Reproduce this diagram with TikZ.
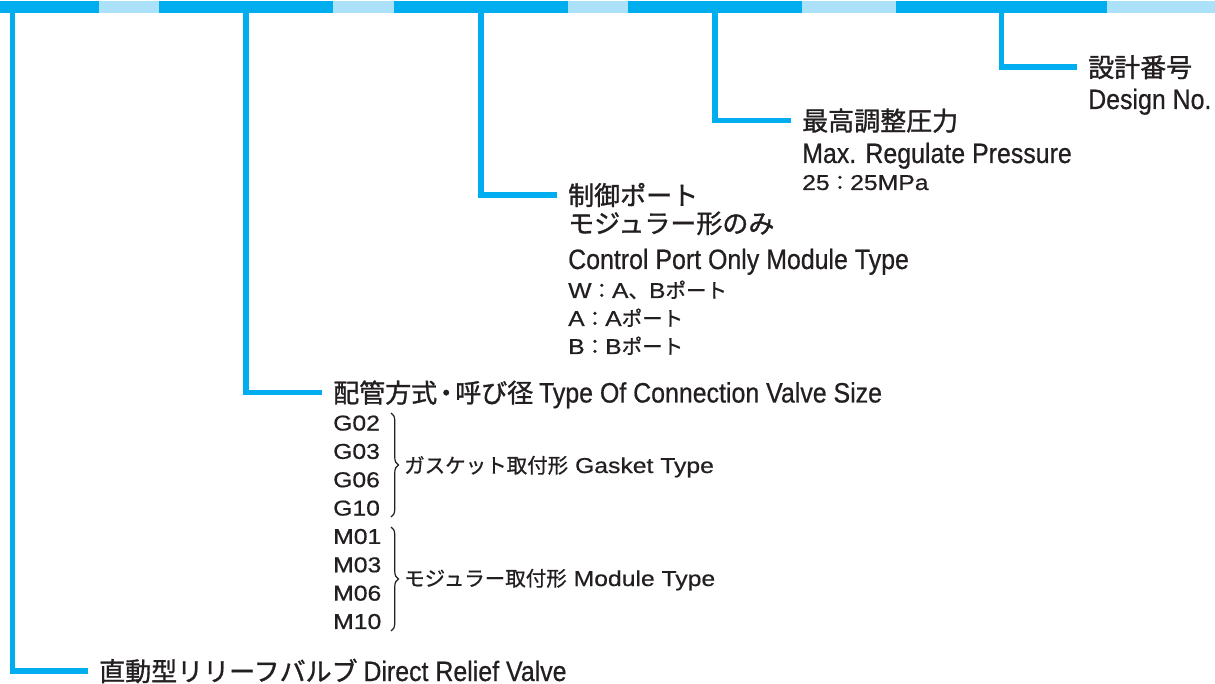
\documentclass[tikz,border=0pt]{standalone}
\usepackage{fontspec}
\newfontfamily\jphd[FakeBold=1.2]{Noto Sans CJK JP}
\newfontfamily\jp[FakeBold=0.8]{Noto Sans CJK JP}
\newfontfamily\hdlat[FakeStretch=0.89,FakeBold=0.6]{Liberation Sans}
\newfontfamily\smlat[FakeStretch=1.15,FakeBold=0.6]{Liberation Sans}
\usetikzlibrary{positioning,decorations.pathreplacing}

\definecolor{bardark}{HTML}{00AEEF}
\definecolor{barlight}{HTML}{ABE2FA}
\definecolor{ink}{HTML}{231F20}

\newcommand\jpbig{\jphd\fontsize{26pt}{30pt}\selectfont}
\newcommand\enbig{\hdlat\fontsize{28pt}{32pt}\selectfont}
\newcommand\jpsm{\jp\fontsize{20.5pt}{24pt}\selectfont}
\newcommand\ensm{\smlat\fontsize{21.5pt}{24pt}\selectfont}
\newcommand\ja[1]{{\jpsm #1}}

\tikzset{
  segbox/.style={fill=#1, inner sep=0pt, outer sep=0pt, minimum height=12pt},
  leadline/.style={draw=bardark, line width=5.5pt, shorten >=11pt},
  headtxt/.style={anchor=west, inner sep=0pt, text=ink, font=\jpbig,
    text height=23pt, text depth=3pt},
  subtxt/.style={anchor=base west, inner sep=0pt, text=ink, font=\enbig},
  smalltxt/.style={anchor=base west, inner sep=0pt, text=ink, font=\ensm},
  codebrace/.style={draw=ink, line width=1.2pt, decorate,
    decoration={brace, amplitude=7.5pt}},
}

\begin{document}
\begin{tikzpicture}[x=1pt,y=-1pt]
\useasboundingbox (0,0) rectangle (1215,684);
% code bar
\node[segbox=bardark, minimum width=98.5pt, anchor=north west] (s1) at (0,1) {};
\foreach \w/\c [count=\i from 2, evaluate=\i as \j using int(\i-1)] in
  {60.5/barlight, 174/bardark, 61/barlight, 174/bardark, 60/barlight,
   174/bardark, 94/barlight, 211/bardark, 108/barlight}
  \node[segbox=\c, minimum width=\w pt, right=0pt of s\j] (s\i) {};

% design no.
\node[headtxt] (hd5) at (1088,67) {設計番号};
\node[subtxt] (en5) at (1088,109) {Design No.};
% max. pressure
\node[headtxt] (hd4) at (802,120.5) {最高調整圧力};
\node[subtxt] (en4) at (802,163) {Max. Regulate Pressure};
\node[smalltxt] (pr25) at (802,190) {25\ja{：}25MPa};
% control port
\node[headtxt] (hd3) at (568,195) {制御ポート};
\node[headtxt] (hd3b) at (568,223) {モジュラー形のみ};
\node[subtxt] (en3) at (568,269) {Control Port Only Module Type};
\node[smalltxt] (pw) at (568,298) {W\ja{：}A\ja{、}B\ja{ポート}};
\node[smalltxt] (pa) at (568,326) {A\ja{：}A\ja{ポート}};
\node[smalltxt] (pb) at (568,354) {B\ja{：}B\ja{ポート}};
% connection and size
\node[headtxt] (hd2) at (333,392.5)
  {配管方式\kern-4pt・\kern-4pt 呼び径 {\enbig Type Of Connection Valve Size}};
\foreach \s [count=\i from 0] in {G02,G03,G06,G10,M01,M03,M06,M10}
  \node[smalltxt] (sz\i) at (333,430.5+28.35*\i) {\s};
\draw[codebrace] (391,413) -- (391,517);
\draw[codebrace] (391,527) -- (391,631);
\node[smalltxt] (gsk) at (404,473) {\ja{ガスケット取付形} Gasket Type};
\node[smalltxt] (mdl) at (404,586) {\ja{モジュラー取付形} Module Type};
% kind
\node[headtxt, text height=21pt, text depth=1pt] (hd1) at (99,671)
  {直動型リリーフバルブ {\enbig Direct Relief Valve}};

% leaders
\draw[leadline] ([xshift=12.5pt]s1.south west) |- (hd1.west);
\draw[leadline] (s3.south) |- (hd2.west);
\draw[leadline] (s5.south) |- (hd3.west);
\draw[leadline] (s7.south) |- (hd4.west);
\draw[leadline] (s9.south) |- (hd5.west);
\end{tikzpicture}
\end{document}
